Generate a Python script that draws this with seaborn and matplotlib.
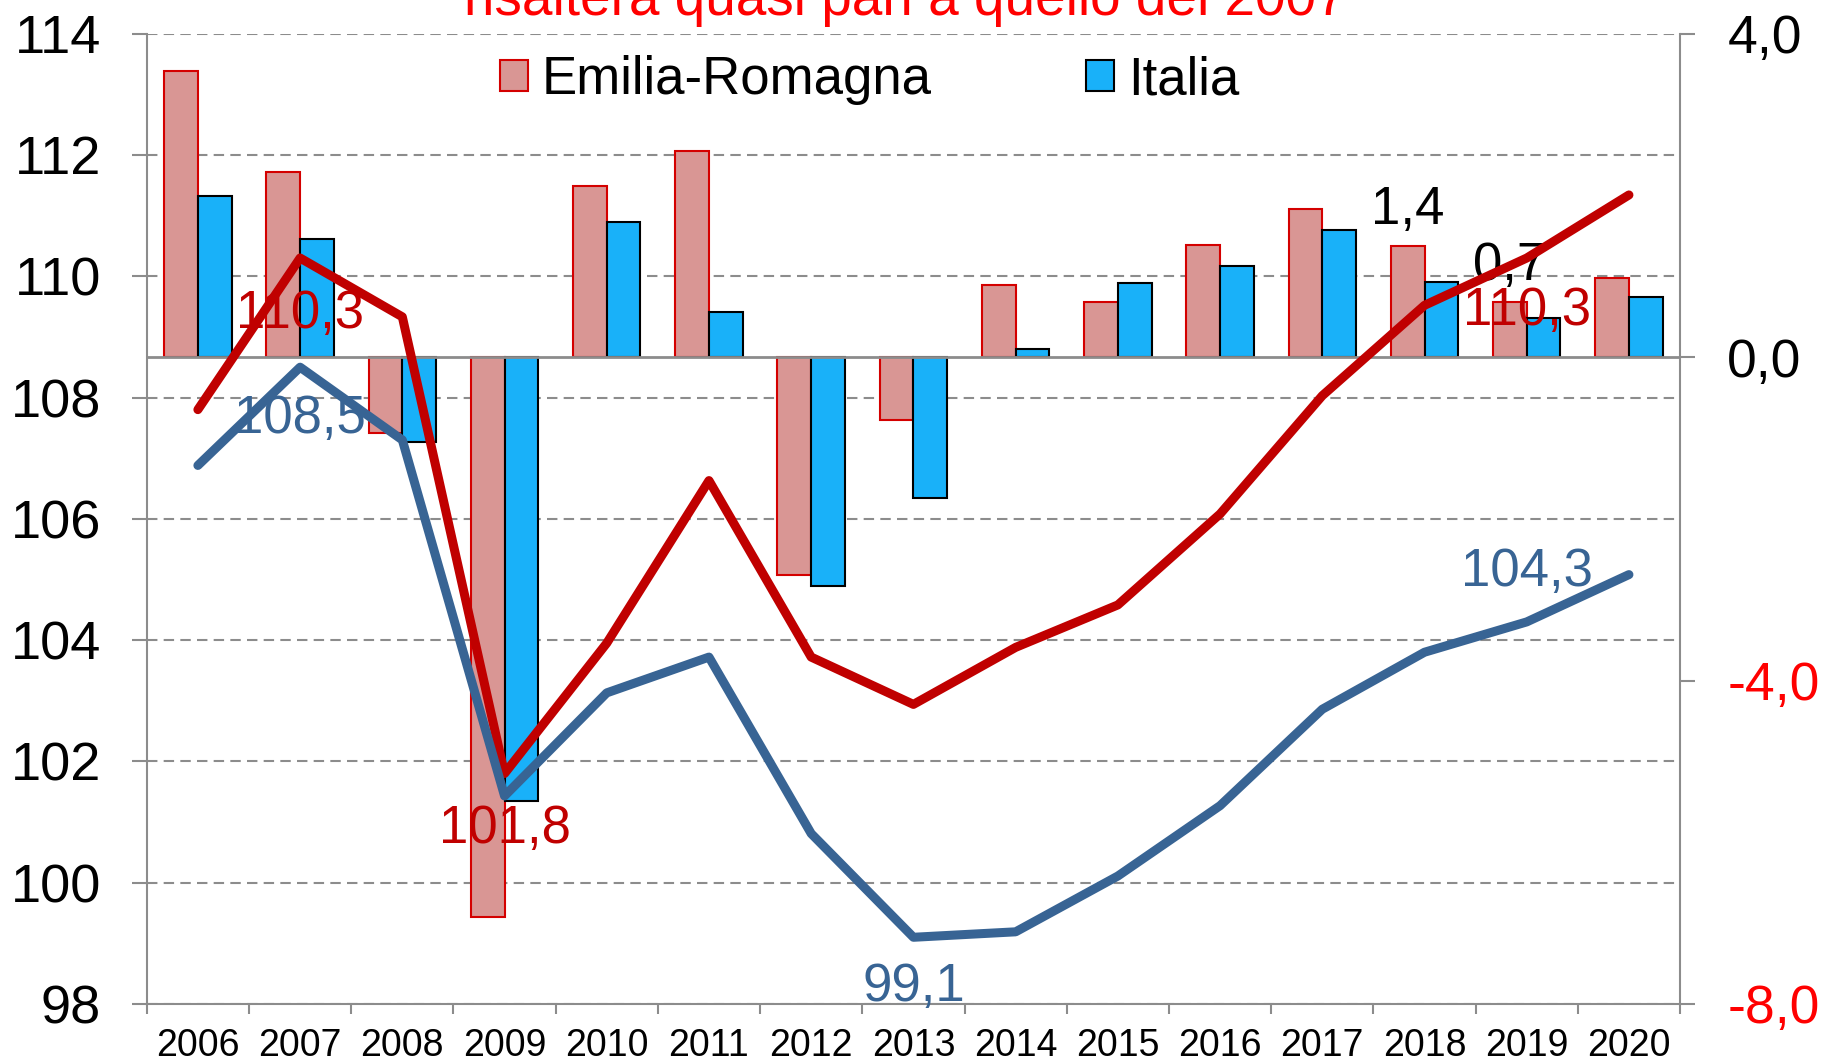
import numpy as np
import pandas as pd
import matplotlib
matplotlib.use("Agg")
import matplotlib.pyplot as plt
import seaborn as sns

# ---------------- data ----------------
years = ["2006", "2007", "2008", "2009", "2010", "2011", "2012", "2013",
         "2014", "2015", "2016", "2017", "2018", "2019", "2020"]
series = ["Emilia-Romagna", "Italia"]

# annual % change (right axis, bars)
er_var = [3.54, 2.29, -0.94, -6.92, 2.12, 2.55, -2.69, -0.78, 0.89, 0.68, 1.39, 1.83, 1.37, 0.68, 0.98]
it_var = [1.99, 1.46, -1.05, -5.49, 1.67, 0.56, -2.83, -1.74, 0.10, 0.91, 1.13, 1.57, 0.93, 0.48, 0.74]

# index level (left axis, lines)
er_idx = [107.80, 110.30, 109.33, 101.80, 103.95, 106.63, 103.72, 102.94, 103.88, 104.58, 106.08, 108.03, 109.52, 110.30, 111.34]
it_idx = [106.88, 108.50, 107.30, 101.43, 103.13, 103.72, 100.81, 99.10, 99.19, 100.11, 101.27, 102.86, 103.80, 104.30, 105.08]

left_ticks = [98, 100, 102, 104, 106, 108, 110, 112, 114]
right_ticks = [-8.0, -4.0, 0.0, 4.0]
title_text = "risalterà quasi pari a quello del 2007"

# labelled points: (series, year, vertical offset in points)
line_label_specs = [("Emilia-Romagna", "2007", -40), ("Italia", "2007", -37),
                    ("Emilia-Romagna", "2009", -40), ("Italia", "2013", -36),
                    ("Italia", "2019", 36), ("Emilia-Romagna", "2019", -38)]
bar_label_years = ["2018", "2019"]

# ---------------- style ----------------
bar_fill = ["#D99694", "#19B1F9"]
bar_edge = ["#D40000", "#000000"]
line_colors = ["#C00000", "#386494"]
grey = "#8C8C8C"
FS = 38

sns.set_style("white")
plt.rcParams["font.family"] = ["Liberation Sans", "DejaVu Sans"]
plt.rcParams.update({"text.color": "black", "xtick.color": "black", "ytick.color": "black"})

def fmt(v):
    return f"{v:.1f}".replace(".", ",")

fig = plt.figure(figsize=(18.21, 10.64), dpi=100)
ax_grid = fig.add_axes([0.0806, 0.0564, 0.842, 0.912])
ax_bars = ax_grid.twinx()
ax_lines = ax_grid.twinx()

bars_df = pd.DataFrame({"Anno": years * 2, "Var": er_var + it_var,
                        "Area": [series[0]] * len(years) + [series[1]] * len(years)})
lines_df = pd.DataFrame({"Anno": years * 2, "Indice": er_idx + it_idx,
                         "Area": [series[0]] * len(years) + [series[1]] * len(years)})

sns.barplot(data=bars_df, x="Anno", y="Var", hue="Area", hue_order=series, order=years,
            palette=bar_fill, width=0.66, saturation=1, linewidth=1.5, gap=0,
            legend=False, ax=ax_bars, zorder=2)
for cont, ec in zip(ax_bars.containers, bar_edge):
    for p in cont:
        p.set_edgecolor(ec)

sns.pointplot(data=lines_df, x="Anno", y="Indice", hue="Area", hue_order=series, order=years,
              palette=line_colors, markers="", linestyles="-", errorbar=None, legend=False,
              ax=ax_lines, linewidth=6.5, solid_capstyle="round")
for ln in ax_lines.lines:
    ln.set_linewidth(6.5)
    ln.set_solid_capstyle("round")

# ---------------- axes ----------------
n = len(years)
for a in (ax_grid, ax_bars, ax_lines):
    a.set_xlim(-0.5, n - 0.5)
    a.set_xlabel("")
    a.set_ylabel("")
ax_grid.set_ylim(left_ticks[0], left_ticks[-1])
ax_lines.set_ylim(left_ticks[0], left_ticks[-1])
ax_bars.set_ylim(right_ticks[0], right_ticks[-1])

# left axis + grid
ax_grid.set_yticks(left_ticks)
ax_grid.set_yticklabels([str(t) for t in left_ticks])
ax_grid.tick_params(axis="y", which="major", left=True, right=False, length=11, width=1.5,
                    color=grey, labelcolor="black", labelsize=FS + 1, pad=22)
ax_grid.yaxis.grid(True, linestyle=(0, (5, 3)), color=grey, linewidth=1.5)
ax_grid.xaxis.grid(False)
ax_grid.set_axisbelow(True)

# x axis
ax_grid.set_xticks(range(n))
ax_grid.set_xticklabels(years)
ax_grid.set_xticks(np.arange(-0.5, n, 1.0), minor=True)
ax_grid.tick_params(axis="x", which="major", length=0, labelsize=27, labelcolor="black", pad=17)
ax_grid.tick_params(axis="x", which="minor", bottom=True, length=7.5, width=1.5, color=grey)

for side in ("top", "right"):
    ax_grid.spines[side].set_visible(False)
for side in ("left", "bottom"):
    ax_grid.spines[side].set_color(grey)
    ax_grid.spines[side].set_linewidth(1.5)

# right axis
ax_bars.set_yticks(right_ticks)
ax_bars.set_yticklabels([fmt(t) for t in right_ticks])
ax_bars.tick_params(axis="y", which="major", right=True, left=False, length=11, width=1.5,
                    color=grey, labelsize=FS + 0.5, pad=23)
for lbl, t in zip(ax_bars.get_yticklabels(), right_ticks):
    lbl.set_color("#FF0000" if t < 0 else "black")
ax_bars.grid(False)
for side in ("top", "left", "bottom"):
    ax_bars.spines[side].set_visible(False)
ax_bars.spines["right"].set_color(grey)
ax_bars.spines["right"].set_linewidth(1.5)
ax_bars.axhline(0, color=grey, linewidth=2, zorder=3)

# lines axis: no decorations
ax_lines.yaxis.set_visible(False)
ax_lines.grid(False)
for s in ax_lines.spines.values():
    s.set_visible(False)

# ---------------- labels ----------------
er_bar_labels = [fmt(v) if y in bar_label_years else "" for y, v in zip(years, er_var)]
ax_bars.bar_label(ax_bars.containers[0], labels=er_bar_labels, padding=8,
                  fontsize=FS, color="black")

lookup = {series[0]: er_idx, series[1]: it_idx}
col = {series[0]: line_colors[0], series[1]: line_colors[1]}
for area, yr, dy in line_label_specs:
    i = years.index(yr)
    v = lookup[area][i]
    ax_lines.annotate(fmt(v), xy=(i, v), xytext=(0, dy), textcoords="offset points",
                      ha="center", va="center", fontsize=FS, color=col[area])

# legend
leg = ax_lines.legend(ax_bars.containers, series, loc="center", bbox_to_anchor=(0.4715, 0.952),
                      ncol=2, frameon=False, fontsize=FS, handlelength=0.53, handleheight=0.53,
                      handletextpad=0.27, columnspacing=2.92, borderaxespad=0)
for t in leg.get_texts():
    t.set_color("black")

fig.text(0.497, 1 - 15 / 1064, title_text, color="#FF0000", fontsize=39.5,
         ha="center", va="baseline")

fig.savefig("out.png", dpi=100)
